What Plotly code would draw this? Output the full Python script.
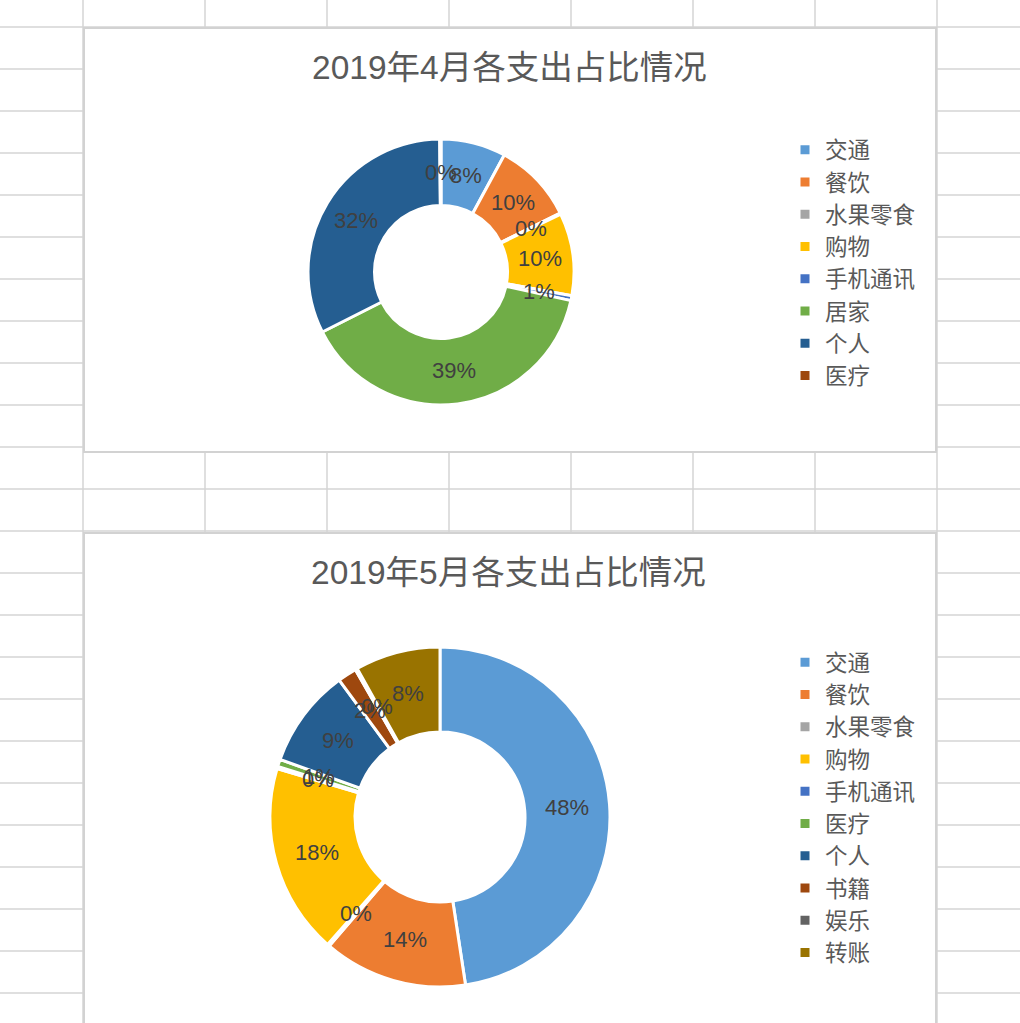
import math
import plotly.graph_objects as go

W, H = 1020, 1023

# ---- data ----
april_labels = ["交通", "餐饮", "水果零食", "购物", "手机通讯", "居家", "个人", "医疗"]
april_values = [7.9, 9.8, 0.15, 10.0, 0.6, 39.1, 32.3, 0.15]
april_colors = ["#5B9BD5", "#ED7D31", "#A5A5A5", "#FFC000", "#4472C4", "#70AD47", "#255E91", "#9E480E"]

may_labels = ["交通", "餐饮", "水果零食", "购物", "手机通讯", "医疗", "个人", "书籍", "娱乐", "转账"]
may_values = [47.6, 13.7, 0.2, 18.1, 0.2, 0.7, 9.4, 1.8, 0.2, 8.1]
may_colors = ["#5B9BD5", "#ED7D31", "#A5A5A5", "#FFC000", "#4472C4", "#70AD47", "#255E91", "#9E480E", "#636363", "#997300"]

titles = ["2019年4月各支出占比情况", "2019年5月各支出占比情况"]

FONT = "Liberation Sans, Arial, 'Noto Sans CJK SC', sans-serif"
HOLE = 0.5


def px(x):
    return x / W


def py(y):
    return 1 - y / H


# ---- spreadsheet grid background ----
shapes = []
grid_color = "#d4d4d4"
col_x = [83, 205, 327, 449, 571, 693, 815, 937]
for x in col_x:
    shapes.append(dict(type="line", xref="paper", yref="paper", x0=px(x), x1=px(x), y0=0, y1=1,
                       line=dict(color=grid_color, width=1.5), layer="below"))
y = 27
while y < H:
    shapes.append(dict(type="line", xref="paper", yref="paper", x0=0, x1=1, y0=py(y), y1=py(y),
                       line=dict(color=grid_color, width=1.5), layer="below"))
    y += 42

# chart boxes
for (x0, y0, x1, y1) in [(84, 28, 936, 452), (84, 533, 936, 1040)]:
    shapes.append(dict(type="rect", xref="paper", yref="paper", x0=px(x0), x1=px(x1), y0=py(y1), y1=py(y0),
                       fillcolor="white", line=dict(color="#d2d2d2", width=2), layer="below"))

fig = go.Figure()
annotations = []

# pie boxes in pixels (left, top, right, bottom)
pies = [
    (april_labels, april_values, april_colors, (308, 139, 574, 405), "legend"),
    (may_labels, may_values, may_colors, (270, 647, 610, 987), "legend2"),
]

for i, (labels, values, colors, box, leg) in enumerate(pies):
    l, t, r, b = box
    # second pie: invisible zero-width suffix so its legend keeps its own entries
    shown = labels if i == 0 else [s + "\u200b" for s in labels]
    fig.add_trace(go.Pie(
        labels=shown, values=values, sort=False, direction="clockwise", rotation=0,
        hole=HOLE, marker=dict(colors=colors, line=dict(color="white", width=3)),
        textinfo="none", domain=dict(x=[px(l), px(r)], y=[py(b), py(t)]),
        legend=leg, hoverinfo="skip",
    ))
    # Excel-style data labels at the middle of the ring
    cx, cy = (l + r) / 2, (t + b) / 2
    R = (r - l) / 2
    rm = R * (1 + HOLE) / 2
    total = sum(values)
    cum = 0.0
    for v in values:
        th = 2 * math.pi * (cum + v / 2) / total
        cum += v
        annotations.append(dict(
            text=f"{round(v / total * 100)}%", x=px(cx + rm * math.sin(th)), y=py(cy - rm * math.cos(th)),
            xref="paper", yref="paper", showarrow=False, xanchor="center", yanchor="middle",
            font=dict(family=FONT, size=22, color="#404040")))

annotations += [
    dict(text=titles[0], x=px(509), y=py(68), xref="paper", yref="paper", showarrow=False,
         xanchor="center", yanchor="middle", font=dict(family=FONT, size=33.5, color="#595959")),
    dict(text=titles[1], x=px(508), y=py(572), xref="paper", yref="paper", showarrow=False,
         xanchor="center", yanchor="middle", font=dict(family=FONT, size=33.5, color="#595959")),
]

legend_common = dict(font=dict(family=FONT, size=22.5, color="#595959"), bgcolor="rgba(0,0,0,0)",
                     borderwidth=0, xanchor="left", yanchor="middle", traceorder="normal",
                     itemwidth=30)

fig.update_layout(
    width=W, height=H, margin=dict(l=0, r=0, t=0, b=0),
    paper_bgcolor="white", plot_bgcolor="white",
    shapes=shapes, annotations=annotations,
    legend=dict(x=px(785), y=py(262.5), **legend_common),
    legend2=dict(x=px(785), y=py(807.5), **legend_common),
    showlegend=True,
)

fig.write_html("out.html")
